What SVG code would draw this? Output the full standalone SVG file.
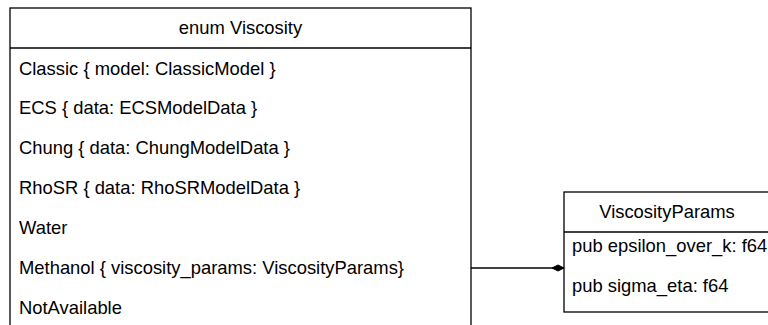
<svg xmlns="http://www.w3.org/2000/svg" width="768" height="325" viewBox="0 0 768 325">
<style>
.box{fill:#ffffff;stroke:#000000;stroke-width:1.3}
.sep{stroke:#000000;stroke-width:1.3}
.t{font-family:"Liberation Sans",Arial,sans-serif;font-size:18.4px;fill:#000000}
.c{text-anchor:middle}
.conn{stroke:#000000;stroke-width:1.3;fill:none}
</style>
<defs>
<marker id="diamond" markerWidth="14" markerHeight="8" refX="13" refY="4" orient="auto" markerUnits="userSpaceOnUse">
<path d="M1,4 L7,1 L13,4 L7,7 Z" fill="#000000" stroke="#000000" stroke-width="1"/>
</marker>
</defs>
<g id="viscosity">
<rect class="box" x="10" y="8" width="461" height="330"/>
<line class="sep" x1="10" y1="48" x2="471" y2="48"/>
<text class="t c" x="240.5" y="34">enum Viscosity</text>
<text class="t" x="19" y="75">Classic { model: ClassicModel }</text>
<text class="t" x="19" y="114">ECS { data: ECSModelData }</text>
<text class="t" x="19" y="154">Chung { data: ChungModelData }</text>
<text class="t" x="19" y="194">RhoSR { data: RhoSRModelData }</text>
<text class="t" x="19" y="234">Water</text>
<text class="t" x="19" y="274">Methanol { viscosity_params: ViscosityParams}</text>
<text class="t" x="19" y="314">NotAvailable</text>
</g>
<g id="viscosityparams">
<rect class="box" x="564" y="192" width="210" height="120"/>
<line class="sep" x1="564" y1="232" x2="774" y2="232"/>
<text class="t c" x="667" y="218">ViscosityParams</text>
<text class="t" x="572" y="252">pub epsilon_over_k: f64</text>
<text class="t" x="572" y="292">pub sigma_eta: f64</text>
</g>
<g id="connectors">
<line class="conn" x1="471" y1="268" x2="564" y2="268" marker-end="url(#diamond)"/>
</g>
</svg>
